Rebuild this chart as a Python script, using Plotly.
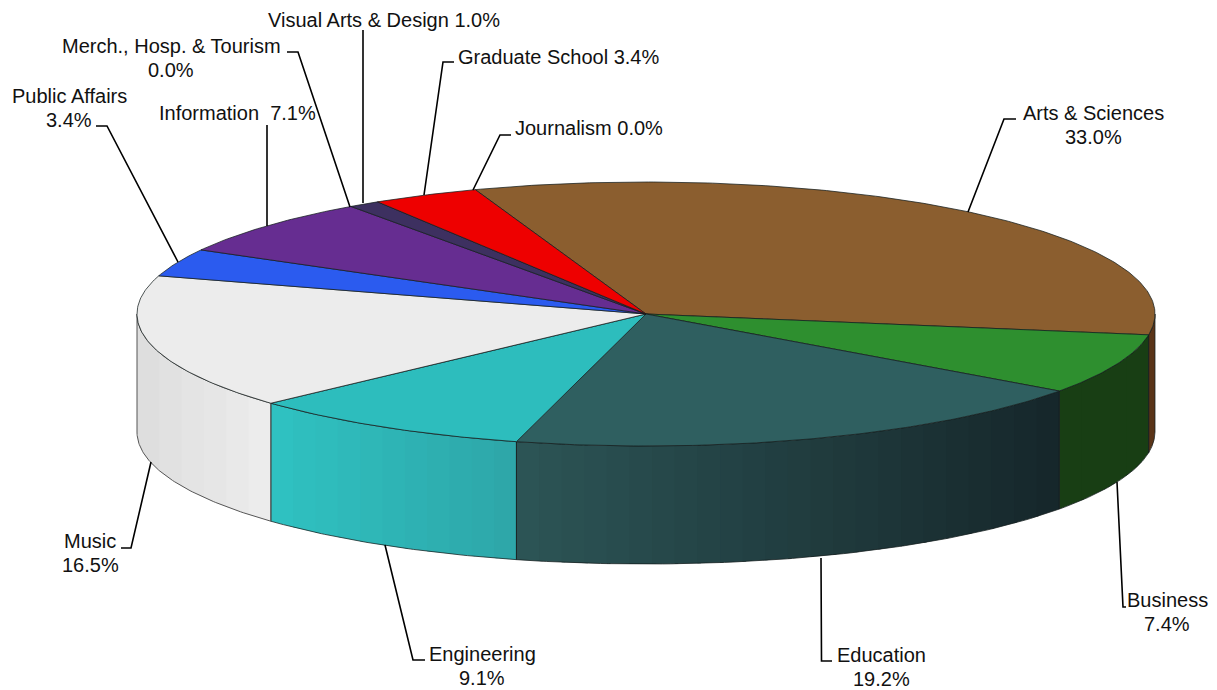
import numpy as np
import plotly.graph_objects as go

# ---- data ----
categories = ["Arts & Sciences", "Business", "Education", "Engineering", "Music",
              "Public Affairs", "Information", "Merch., Hosp. & Tourism",
              "Visual Arts & Design", "Graduate School", "Journalism"]
values = [33.0, 7.4, 19.2, 9.1, 16.5, 3.4, 7.1, 0.0, 1.0, 3.4, 0.0]

# ---- styles ----
top_colors = ["#8B5E2F", "#2E8F2F", "#2F5F60", "#2DBDBD", "#ECECEC",
              "#2B5BEF", "#662D91", "#662D91", "#3D3060", "#EE0000", "#EE0000"]
wall_left = ["#5A3418", "#183E14", "#2C5556", "#2FC2C2", "#DDDDDD",
             "#2B5BEF", "#662D91", "#662D91", "#3D3060", "#EE0000", "#EE0000"]
wall_right = ["#5A3418", "#183E14", "#16262A", "#2EA6A8", "#EDEDED",
              "#2B5BEF", "#662D91", "#662D91", "#3D3060", "#EE0000", "#EE0000"]
separators = ["\n", "\n", "\n", "\n", "\n", "\n", "\u00a0\u00a0", "\n", " ", " ", " "]
label_pos = [(1093, 125), (1167, 612), (881, 667), (482, 666), (90, 553), (69, 108),
             (237, 113), (171, 58), (384, 20), (558, 57), (589, 128)]
leaders = [[(1016, 119), (1004, 119), (968, 212)],
           [(1117, 482), (1123, 607), (1126, 607)],
           [(821, 558), (821.5, 661), (832, 661)],
           [(385, 545), (413, 660), (425, 660)],
           [(151, 462), (131, 548), (121, 548)],
           [(96, 126), (107, 126), (178, 262)],
           [(267, 125), (267, 226)],
           [(287, 52), (298, 52), (350, 207)],
           [(363, 30), (363, 203)],
           [(454, 62), (443, 62), (424, 195)],
           [(511, 135), (500, 135), (473, 190)]]

CX, CY, RX, RY, DEPTH = 646, 314, 509, 132, 118
START = -19.6
LINE_GAP = 23.5
BODY_MARGIN = 8  # the page's default body margin offsets the plot
EDGE = "rgba(20,30,30,0.75)"
RIM = "#555555"
FONT = dict(family="Liberation Sans, Arial, sans-serif", size=20, color="#111111")


def px(a):
    return CX + RX * np.sin(np.radians(a))


def py(a):
    return CY - RY * np.cos(np.radians(a))


def mix(c1, c2, t):
    a = [int(c1[i:i + 2], 16) for i in (1, 3, 5)]
    b = [int(c2[i:i + 2], 16) for i in (1, 3, 5)]
    return "rgb(%d,%d,%d)" % tuple(round(a[i] + (b[i] - a[i]) * t) for i in range(3))


total = sum(values)
edges = START + np.concatenate([[0], np.cumsum(values)]) * 360.0 / total

fig = go.Figure()


def poly(xs, ys, fill=None, line="rgba(0,0,0,0)", width=0, name=""):
    fig.add_trace(go.Scatter(x=list(xs), y=list(ys), mode="lines",
                             fill="toself" if fill else "none",
                             fillcolor=fill, line=dict(color=line, width=width),
                             hoverinfo="text", text=name, showlegend=False))


# walls: only the front half of the rim (90..270 degrees clockwise from the top)
wall_spans = []
for i, v in enumerate(values):
    if v <= 0:
        continue
    a0, a1 = edges[i], edges[i + 1]
    lo, hi = max(a0, 90.0), min(a1, 270.0)
    if hi <= lo:
        continue
    wall_spans.append((i, lo, hi))
    xa, xb = px(hi), px(lo)
    n = max(1, int(abs(xb - xa) / 22))          # shading bands about 22 px wide
    xgrid = np.linspace(xa, xb, n + 1)
    # split by x: map x back to an angle on the front half of the rim
    ang = 180 - np.degrees(np.arcsin(np.clip((xgrid - CX) / RX, -1, 1)))
    ang = np.clip(ang, lo, hi)
    for k in range(n):
        a_start = ang[k]
        a_end = lo if k == n - 1 else max(lo, ang[k + 1] - 0.4)  # overlap hides seams
        seg = np.linspace(a_start, a_end, 6)
        xs, ys = px(seg), py(seg)
        t = (k + 0.5) / n
        col = mix(wall_left[i], wall_right[i], t)
        poly(np.r_[xs, xs[::-1], xs[0]], np.r_[ys, ys[::-1] + DEPTH, ys[0]], fill=col,
             name=categories[i])

# wall outlines
for i, lo, hi in wall_spans:
    seg = np.linspace(lo, hi, 80)
    xs, ys = px(seg), py(seg)
    poly(np.r_[xs, xs[::-1], xs[0]], np.r_[ys + DEPTH, ys[::-1], ys[0] + DEPTH],
         line=EDGE if i != 4 else RIM, width=1)

# top wedges
for i, v in enumerate(values):
    if v <= 0:
        continue
    seg = np.linspace(edges[i], edges[i + 1], max(8, int(v * 6)))
    xs, ys = px(seg), py(seg)
    poly(np.r_[CX, xs, CX], np.r_[CY, ys, CY], fill=top_colors[i], line=EDGE, width=1,
         name=f"{categories[i]} {v:.1f}%")

# labels and leader lines
for i, v in enumerate(values):
    lx, ly = zip(*leaders[i])
    poly(lx, ly, line="#000000", width=1.6)
    lines = f"{categories[i]}{separators[i]}{v:.1f}%".split("\n")
    y0 = label_pos[i][1] - LINE_GAP * (len(lines) - 1) / 2
    for j, text in enumerate(lines):
        fig.add_annotation(x=label_pos[i][0], y=y0 + j * LINE_GAP, text=text, showarrow=False,
                           xanchor="center", yanchor="middle", align="center", font=FONT)

fig.update_layout(width=1217 - BODY_MARGIN, height=690 - BODY_MARGIN,
                  margin=dict(l=0, r=0, t=0, b=0),
                  paper_bgcolor="white", plot_bgcolor="white", showlegend=False,
                  xaxis=dict(range=[BODY_MARGIN, 1217], visible=False, fixedrange=True),
                  yaxis=dict(range=[690, BODY_MARGIN], visible=False, fixedrange=True))
fig.write_html("out.html", config={"displayModeBar": False})
